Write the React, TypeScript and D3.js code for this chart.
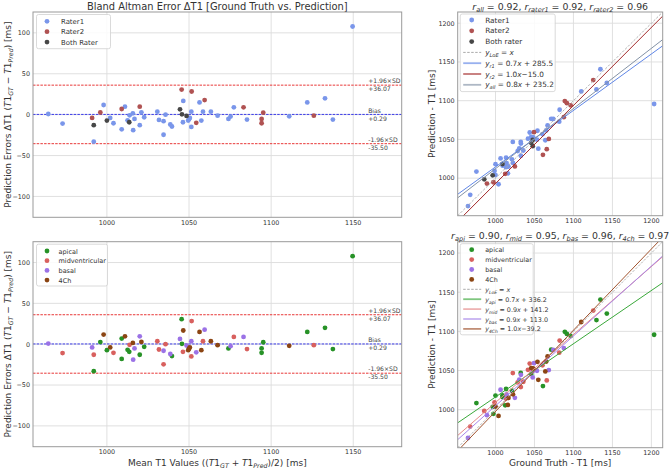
import * as d3 from 'd3';

// Bland-Altman readings: mean of GT and prediction, and GT - prediction
const meanT1 = [
  964.3, 973.0, 991.0, 992.0, 992.0, 996.0, 998.0, 1000.0, 1002.0, 1004.0,
  1009.0, 1009.0, 1011.0, 1012.6, 1013.6, 1013.8, 1015.8, 1016.0, 1016.8, 1020.0,
  1020.0, 1021.0, 1022.7, 1030.7, 1031.7, 1034.5, 1034.5, 1035.7, 1038.6, 1039.6,
  1044.5, 1045.7, 1046.5, 1046.3, 1048.5, 1049.5, 1050.0, 1050.5, 1051.4, 1051.4,
  1054.4, 1056.4, 1057.5, 1058.5, 1059.5, 1063.3, 1067.4, 1074.0, 1075.3, 1077.3,
  1083.2, 1085.3, 1094.2, 1094.2, 1095.2, 1111.0, 1122.0, 1126.0, 1132.8, 1137.6,
  1149.6, 1045.5, 1051.6,
];
const diffT1 = [
  0.8, -10.9, -4.0, -12.9, -33.0, 2.6, 11.8, -7.3, -4.0, -10.5,
  -18.0, 6.9, 9.7, -6.9, -9.3, -0.8, 1.6, -19.0, -5.2, 9.7,
  -12.9, 2.8, -3.2, 3.6, -6.5, -8.0, -24.6, 0.0, -12.0, -14.5,
  6.5, 0.4, 16.8, -9.3, -1.6, -7.3, -5.6, -4.0, 3.6, -15.0,
  -10.0, 15.0, -7.3, 3.6, 17.8, 3.6, -1.2, -5.2, -2.4, 8.9,
  8.9, -6.0, -5.2, -10.5, 2.4, -2.0, 15.0, -1.2, 20.0, -6.0,
  107.8, 30.7, 28.3,
];
const raterOf = [
  'r1', 'r1', 'r2', 'both', 'r1', 'r2', 'r1', 'both', 'r1', 'r1',
  'r1', 'r2', 'r1', 'r1', 'both', 'r1', 'r1', 'r1', 'r1', 'r2',
  'r1', 'r1', 'r1', 'r1', 'r1', 'r1', 'r1', 'r1', 'r1', 'r1',
  'both', 'both', 'r1', 'r1', 'both', 'r1', 'r1', 'r1', 'r1', 'r1',
  'r2', 'r1', 'r1', 'r1', 'r2', 'r1', 'r1', 'r1', 'r1', 'r1',
  'r2', 'r1', 'r2', 'r2', 'r2', 'r1', 'r1', 'r2', 'r1', 'r1',
  'r1', 'r2', 'r2',
];
const regionOf = [
  'bas', 'mid', 'bas', 'mid', 'api', 'api', '4ch', 'api', '4ch', 'mid',
  'api', 'api', '4ch', 'api', 'api', 'mid', '4ch', 'bas', 'bas', 'bas',
  'api', '4ch', 'api', 'mid', 'mid', 'bas', 'mid', 'mid', 'bas', 'api',
  'bas', 'api', '4ch', 'mid', 'bas', '4ch', '4ch', '4ch', 'bas', 'mid',
  'bas', '4ch', '4ch', 'mid', 'bas', '4ch', '4ch', 'api', 'bas', 'mid',
  'bas', 'mid', 'api', 'api', 'api', '4ch', 'api', 'mid', 'api', 'api',
  'api', 'api', 'mid',
];

const raters = ['r1', 'r2', 'both'];
const raterLabels = ['Rater1', 'Rater2', 'Both Rater'];
const raterLabelsSc = ['Rater1', 'Rater2', 'Both rater'];
const raterColors = ['#7a96ea', '#b05252', '#474747'];

const regions = ['api', 'mid', 'bas', '4ch'];
const regionLabels = ['apical', 'midventricular', 'basal', '4Ch'];
const regionColors = ['#279227', '#d8605e', '#9b72e6', '#8b4513'];

// regression lines (slope, intercept)
const raterFitSlope = [0.729, 1.008, 0.777];
const raterFitIntercept = [285.5, -15.0, 235.2];
const raterFitColors = ['#5f86e6', '#a32a2a', '#8392a6'];
const raterFitText = [
  { s: 'r1', e: ' = 0.7', t: ' + 285.5' },
  { s: 'r2', e: ' = 1.0', t: '\u221215.0' },
  { s: 'all', e: ' = 0.8', t: ' + 235.2' },
];
const regionFitSlope = [0.68, 0.868, 0.892, 1.037];
const regionFitIntercept = [336.2, 141.2, 113.0, -39.2];
const regionFitColors = ['#3aa83a', '#e58a8a', '#a987ea', '#a0522d'];
const regionFitText = [
  { s: 'api', e: ' = 0.7', t: ' + 336.2' },
  { s: 'mid', e: ' = 0.9', t: ' + 141.2' },
  { s: 'bas', e: ' = 0.9', t: ' + 113.0' },
  { s: '4Ch', e: ' = 1.0', t: '\u221239.2' },
];

const bias = 0.29;
const upperLoA = 36.07;
const lowerLoA = -35.5;

const baXTicks = [1000, 1050, 1100, 1150];
const baYTicks = [-100, -50, 0, 50, 100];
const scTicks = [1000, 1050, 1100, 1150, 1200];

const gtT1 = meanT1.map((m, i) => m + diffT1[i] / 2);
const predT1 = meanT1.map((m, i) => m - diffT1[i] / 2);

const FONT = 'DejaVu Sans';
const GRID = '#dcdcdc';
const FRAME = '#9a9a9a';
const TXT = '#333';
const TICK_FS = 6.4;

// n = normal, i = italic, s = italic subscript
type Part = [string, 'n' | 'i' | 's'];
const math = (parts: Part[]) => {
  let low = false;
  return parts.map(([t, k], j) => {
    let dy = 0;
    if (k === 's' && !low) {
      dy = 2;
      low = true;
    } else if (k !== 's' && low) {
      dy = -2;
      low = false;
    }
    return (
      <tspan
        key={j}
        dy={dy || undefined}
        fontStyle={k === 'n' ? undefined : 'italic'}
        fontSize={k === 's' ? '0.7em' : undefined}
      >
        {t}
      </tspan>
    );
  });
};

interface Box {
  x0: number;
  x1: number;
  y0: number;
  y1: number;
}

const Frame = ({
  b,
  x,
  y,
  xt,
  yt,
}: {
  b: Box;
  x: d3.ScaleLinear<number, number>;
  y: d3.ScaleLinear<number, number>;
  xt: number[];
  yt: number[];
}) => (
  <g>
    <rect x={b.x0} y={b.y0} width={b.x1 - b.x0} height={b.y1 - b.y0} fill="#fff" />
    {xt.map((t) => (
      <g key={'x' + t}>
        <line x1={x(t)} x2={x(t)} y1={b.y0} y2={b.y1} stroke={GRID} strokeWidth={0.9} />
        <text x={x(t)} y={b.y1 + 7.6} textAnchor="middle" fontFamily={FONT} fontSize={TICK_FS} fill={TXT}>
          {t}
        </text>
      </g>
    ))}
    {yt.map((t) => (
      <g key={'y' + t}>
        <line x1={b.x0} x2={b.x1} y1={y(t)} y2={y(t)} stroke={GRID} strokeWidth={0.9} />
        <text x={b.x0 - 3} y={y(t) + 2.3} textAnchor="end" fontFamily={FONT} fontSize={TICK_FS} fill={TXT}>
          {t < 0 ? '\u2212' + Math.abs(t) : t}
        </text>
      </g>
    ))}
  </g>
);

const BlandAltman = ({ b, byRater, id }: { b: Box; byRater: boolean; id: string }) => {
  const x = d3.scaleLinear().domain([955, 1179.5]).range([b.x0, b.x1]);
  const y = d3.scaleLinear().domain([-125.5, 125.5]).range([b.y1, b.y0]);
  const keys = byRater ? raters : regions;
  const colors = byRater ? raterColors : regionColors;
  const labels = byRater ? raterLabels : regionLabels;
  const groupOf = byRater ? raterOf : regionOf;
  const lx = b.x1 - 33.5;
  const hl = [
    { v: upperLoA, c: '#e83838', a: '+1.96\u00d7SD', bl: '+36.07' },
    { v: bias, c: '#3a3ae8', a: 'Bias', bl: '+0.29' },
    { v: lowerLoA, c: '#e83838', a: '-1.96\u00d7SD', bl: '-35.50' },
  ];
  const fs = byRater ? 6.9 : 6.5;
  const rowH = byRater ? 10.4 : 9.7;
  return (
    <g>
      <Frame b={b} x={x} y={y} xt={baXTicks} yt={baYTicks} />
      <clipPath id={id}>
        <rect x={b.x0} y={b.y0} width={b.x1 - b.x0} height={b.y1 - b.y0} />
      </clipPath>
      <g clipPath={`url(#${id})`}>
        {hl.map((h) => (
          <line
            key={h.a}
            x1={b.x0}
            x2={b.x1}
            y1={y(h.v)}
            y2={y(h.v)}
            stroke={h.c}
            strokeWidth={1}
            strokeDasharray="2.5,1.2"
          />
        ))}
        {keys.map((k, gi) =>
          meanT1.map((m, i) =>
            groupOf[i] === k ? (
              <circle key={k + i} cx={x(m)} cy={y(diffT1[i])} r={2.4} fill={colors[gi]} />
            ) : null
          )
        )}
      </g>
      {hl.map((h) => (
        <g key={h.a + 't'}>
          <text x={lx} y={y(h.v) - 1.8} fontFamily={FONT} fontSize={6.1} fill="#444">
            {h.a}
          </text>
          <text x={lx} y={y(h.v) + 6.3} fontFamily={FONT} fontSize={6.1} fill="#444">
            {h.bl}
          </text>
        </g>
      ))}
      <rect x={b.x0} y={b.y0} width={b.x1 - b.x0} height={b.y1 - b.y0} fill="none" stroke={FRAME} />
      <rect
        x={b.x0 + 3.5}
        y={b.y0 + 2.5}
        width={byRater ? 74 : 71}
        height={keys.length * rowH + 3}
        rx={2}
        fill="#fff"
        fillOpacity={0.85}
        stroke="#d0d0d0"
        strokeWidth={0.8}
      />
      {labels.map((l, gi) => {
        const ry = b.y0 + 2.5 + 6.8 + gi * rowH;
        return (
          <g key={l}>
            <circle cx={b.x0 + 14} cy={ry} r={2.4} fill={colors[gi]} />
            <text x={b.x0 + (byRater ? 28 : 25.5)} y={ry + 2.5} fontFamily={FONT} fontSize={fs} fill={TXT}>
              {l}
            </text>
          </g>
        );
      })}
    </g>
  );
};

const Scatter = ({ b, byRater, id }: { b: Box; byRater: boolean; id: string }) => {
  const x = d3.scaleLinear().domain([951.5, 1214.5]).range([b.x0, b.x1]);
  const y = d3.scaleLinear().domain([951.5, 1214.5]).range([b.y1, b.y0]);
  const keys = byRater ? raters : regions;
  const colors = byRater ? raterColors : regionColors;
  const labels = byRater ? raterLabelsSc : regionLabels;
  const groupOf = byRater ? raterOf : regionOf;
  const slopes = byRater ? raterFitSlope : regionFitSlope;
  const icpts = byRater ? raterFitIntercept : regionFitIntercept;
  const fitColors = byRater ? raterFitColors : regionFitColors;
  const fitText = byRater ? raterFitText : regionFitText;
  const [d0, d1] = x.domain();
  const fs = byRater ? 7.3 : 6.4;
  const rowH = byRater ? 10.8 : 9.9;
  const nRows = keys.length + 1 + slopes.length;
  const ry = (k: number) => b.y0 + 8 + k * rowH;
  return (
    <g>
      <Frame b={b} x={x} y={y} xt={scTicks} yt={scTicks} />
      <clipPath id={id}>
        <rect x={b.x0} y={b.y0} width={b.x1 - b.x0} height={b.y1 - b.y0} />
      </clipPath>
      <g clipPath={`url(#${id})`}>
        {keys.map((k, gi) =>
          meanT1.map((_, i) =>
            groupOf[i] === k ? (
              <circle key={k + i} cx={x(gtT1[i])} cy={y(predT1[i])} r={2.4} fill={colors[gi]} />
            ) : null
          )
        )}
        <line x1={x(d0)} y1={y(d0)} x2={x(d1)} y2={y(d1)} stroke="#aaa" strokeWidth={0.9} strokeDasharray="2.5,1.5" />
        {slopes.map((s, k) => (
          <line
            key={k}
            x1={x(d0)}
            y1={y(s * d0 + icpts[k])}
            x2={x(d1)}
            y2={y(s * d1 + icpts[k])}
            stroke={fitColors[k]}
            strokeWidth={1}
          />
        ))}
      </g>
      <rect x={b.x0} y={b.y0} width={b.x1 - b.x0} height={b.y1 - b.y0} fill="none" stroke={FRAME} />
      <rect
        x={b.x0 + 2.5}
        y={b.y0 + 2}
        width={byRater ? 95 : 73}
        height={nRows * rowH + 2}
        rx={2}
        fill="#fff"
        fillOpacity={0.85}
        stroke="#d0d0d0"
        strokeWidth={0.8}
      />
      {labels.map((l, gi) => (
        <g key={l}>
          <circle cx={b.x0 + 14} cy={ry(gi)} r={2.4} fill={colors[gi]} />
          <text x={b.x0 + 27.5} y={ry(gi) + 2.5} fontFamily={FONT} fontSize={fs} fill={TXT}>
            {l}
          </text>
        </g>
      ))}
      <line
        x1={b.x0 + 5.5}
        x2={b.x0 + 23.5}
        y1={ry(keys.length)}
        y2={ry(keys.length)}
        stroke="#aaa"
        strokeDasharray="2.5,1.5"
      />
      <text x={b.x0 + 27.5} y={ry(keys.length) + 2.5} fontFamily={FONT} fontSize={fs} fill={TXT}>
        {math([
          ['y', 'i'],
          ['LoE', 's'],
          [' = ', 'n'],
          ['x', 'i'],
        ])}
      </text>
      {fitText.map((fl, k) => (
        <g key={fl.s}>
          <line
            x1={b.x0 + 5.5}
            x2={b.x0 + 23.5}
            y1={ry(keys.length + 1 + k)}
            y2={ry(keys.length + 1 + k)}
            stroke={fitColors[k]}
            strokeOpacity={0.65}
            strokeWidth={1.8}
          />
          <text x={b.x0 + 27.5} y={ry(keys.length + 1 + k) + 2.5} fontFamily={FONT} fontSize={fs} fill={TXT}>
            {math([
              ['y', 'i'],
              [fl.s, 's'],
              [fl.e, 'n'],
              ['x', 'i'],
              [fl.t, 'n'],
            ])}
          </text>
        </g>
      ))}
    </g>
  );
};

const baTop: Box = { x0: 33, x1: 401.7, y0: 12, y1: 217.3 };
const baBot: Box = { x0: 33, x1: 401.7, y0: 241.7, y1: 446.7 };
const scTop: Box = { x0: 457.7, x1: 662.7, y0: 12, y1: 215.7 };
const scBot: Box = { x0: 457.7, x1: 662.7, y0: 241.7, y1: 447.7 };

const baYLabel: Part[] = [
  ['Prediction Errors ΔT1 (', 'n'],
  ['T', 'i'],
  ['1', 'n'],
  ['GT', 's'],
  [' − ', 'n'],
  ['T', 'i'],
  ['1', 'n'],
  ['Pred', 's'],
  [') [ms]', 'n'],
];
const baXLabel: Part[] = [
  ['Mean T1 Values ((', 'n'],
  ['T', 'i'],
  ['1', 'n'],
  ['GT', 's'],
  [' + ', 'n'],
  ['T', 'i'],
  ['1', 'n'],
  ['Pred', 's'],
  [')/2) [ms]', 'n'],
];
const rTitle = (names: string[], vals: string[]): Part[] =>
  names.flatMap((nm, k) => [
    ['r', 'i'] as Part,
    [nm, 's'] as Part,
    [` = ${vals[k]}${k < names.length - 1 ? ', ' : ''}`, 'n'] as Part,
  ]);

const YLabel = ({ x, b, parts }: { x: number; b: Box; parts: Part[] }) => (
  <text
    transform={`translate(${x},${(b.y0 + b.y1) / 2}) rotate(-90)`}
    textAnchor="middle"
    fontFamily={FONT}
    fontSize={9}
    fill={TXT}
  >
    {math(parts)}
  </text>
);

export default function App() {
  const cxL = (baTop.x0 + baTop.x1) / 2;
  const cxR = (scTop.x0 + scTop.x1) / 2;
  return (
    <svg width={669} height={468} style={{ position: 'absolute', left: 0, top: 0, background: '#fff' }}>
      <rect width={669} height={468} fill="#fff" />
      <BlandAltman b={baTop} byRater={true} id="c1" />
      <BlandAltman b={baBot} byRater={false} id="c2" />
      <Scatter b={scTop} byRater={true} id="c3" />
      <Scatter b={scBot} byRater={false} id="c4" />
      <YLabel x={10.5} b={baTop} parts={baYLabel} />
      <YLabel x={10.5} b={baBot} parts={baYLabel} />
      <YLabel x={434.5} b={scTop} parts={[['Prediction - T1 [ms]', 'n']]} />
      <YLabel x={434.5} b={scBot} parts={[['Prediction - T1 [ms]', 'n']]} />
      <text x={cxL} y={9.8} textAnchor="middle" fontFamily={FONT} fontSize={9.9} fill={TXT}>
        Bland Altman Error ΔT1 [Ground Truth vs. Prediction]
      </text>
      <text x={cxR} y={9.5} textAnchor="middle" fontFamily={FONT} fontSize={9.4} fill={TXT}>
        {math(rTitle(['all', 'rater1', 'rater2'], ['0.92', '0.92', '0.96']))}
      </text>
      <text x={cxR} y={239} textAnchor="middle" fontFamily={FONT} fontSize={9.4} fill={TXT}>
        {math(rTitle(['api', 'mid', 'bas', '4ch'], ['0.90', '0.95', '0.96', '0.97']))}
      </text>
      <text x={cxL} y={465.5} textAnchor="middle" fontFamily={FONT} fontSize={9} fill={TXT}>
        {math(baXLabel)}
      </text>
      <text x={cxR} y={465.5} textAnchor="middle" fontFamily={FONT} fontSize={9} fill={TXT}>
        Ground Truth - T1 [ms]
      </text>
    </svg>
  );
}
